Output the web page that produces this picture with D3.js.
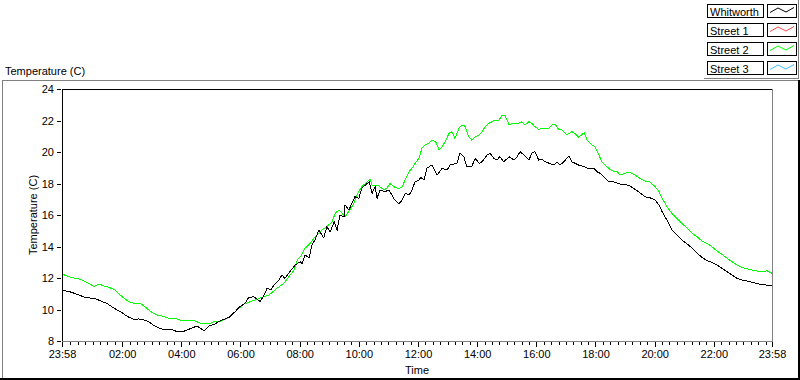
<!DOCTYPE html>
<html>
<head>
<meta charset="utf-8">
<script src="https://cdn.jsdelivr.net/npm/d3@7"></script>
<style>
  body { margin: 0; background: #fff; }
  svg { display: block; font-family: "Liberation Sans", Arial, sans-serif; font-size: 11px; }
  .tick text { font-size: 11px; fill: #000; }
</style>
</head>
<body>
<svg id="chart" width="800" height="380"></svg>
<script>
// [minutes since 23:58, temperature C]
const whitworth = [
  [0,11.24],[20,11.09],[34,10.92],[47,10.77],[61,10.71],[71,10.65],[81,10.50],[91,10.39],[101,10.18],[112,9.97],
  [122,9.80],[128,9.65],[136,9.50],[146,9.38],[156,9.40],[166,9.33],[176,9.23],[185,9.02],[193,8.87],[203,8.76],
  [217,8.76],[223,8.74],[233,8.59],[243,8.57],[254,8.70],[264,8.83],[274,8.95],[288,8.65],[298,8.95],[310,9.08],
  [324,9.33],[339,9.50],[351,9.86],[361,10.18],[371,10.39],[379,10.77],[389,10.81],[402,10.50],[410,10.92],[416,11.35],
  [424,11.24],[430,11.56],[440,11.87],[446,12.19],[452,11.98],[462,12.40],[473,12.83],[483,13.03],[487,12.93],[493,13.46],
  [501,13.27],[507,14.10],[513,14.41],[521,15.05],[531,14.54],[537,15.26],[544,14.94],[552,15.57],[558,15.05],[564,16.00],
  [572,15.89],[574,16.63],[582,16.32],[588,16.74],[594,17.16],[602,17.06],[608,17.70],[623,18.11],[629,17.38],[635,17.80],
  [639,17.06],[645,17.59],[655,17.48],[663,17.59],[669,17.27],[675,16.95],[683,16.70],[690,16.95],[696,17.38],[704,17.27],
  [710,17.59],[716,18.11],[724,18.22],[728,18.39],[734,18.22],[740,18.97],[750,19.17],[761,18.54],[771,18.97],[781,18.86],
  [787,19.17],[801,19.28],[807,19.92],[815,19.70],[821,19.07],[831,19.07],[838,19.60],[846,19.28],[852,19.38],[862,19.81],
  [868,19.92],[876,19.60],[882,19.49],[888,19.70],[896,19.38],[907,19.70],[917,19.49],[923,19.70],[929,20.02],[937,19.81],
  [947,19.49],[953,19.92],[959,20.02],[967,19.49],[973,19.54],[980,19.38],[998,19.17],[1004,19.38],[1010,19.17],[1018,19.38],
  [1028,19.75],[1034,19.38],[1048,19.17],[1059,19.07],[1069,18.92],[1079,18.97],[1085,18.75],[1091,18.65],[1099,18.43],[1109,18.11],
  [1119,18.11],[1130,17.97],[1142,17.95],[1152,17.84],[1162,17.63],[1172,17.42],[1182,17.16],[1192,17.10],[1203,16.95],[1211,16.63],
  [1217,16.21],[1227,15.68],[1237,15.05],[1247,14.73],[1257,14.41],[1268,14.16],[1278,13.89],[1288,13.57],[1298,13.31],[1308,13.10],
  [1318,13.00],[1328,12.83],[1338,12.62],[1349,12.40],[1359,12.19],[1369,11.98],[1379,11.87],[1389,11.81],[1399,11.73],[1414,11.62],
  [1426,11.56],[1440,11.49]
];
const street2 = [
  [0,12.25],[14,12.08],[26,11.98],[37,11.92],[47,11.77],[55,11.66],[65,11.45],[75,11.62],[85,11.49],[95,11.41],
  [107,11.24],[116,10.98],[126,10.71],[136,10.50],[146,10.39],[158,10.39],[168,10.18],[176,9.97],[183,9.80],[193,9.65],
  [203,9.59],[217,9.44],[229,9.44],[239,9.33],[258,9.33],[270,9.27],[284,9.08],[298,9.08],[310,9.27],[320,9.23],
  [335,9.44],[341,9.59],[349,9.80],[359,10.08],[369,10.35],[379,10.46],[391,10.60],[406,10.77],[420,10.92],[436,11.35],
  [450,11.66],[460,12.08],[471,12.51],[477,13.14],[485,13.40],[493,13.89],[503,14.20],[511,14.52],[527,15.05],[537,15.26],
  [548,15.57],[554,16.11],[562,16.32],[574,15.89],[584,16.32],[592,16.74],[598,17.27],[608,17.80],[619,18.11],[625,18.27],
  [629,17.90],[643,17.84],[653,17.59],[659,17.70],[665,18.01],[673,17.80],[683,17.65],[690,17.80],[696,18.22],[704,18.75],
  [710,18.97],[716,19.28],[724,19.60],[730,20.23],[736,20.44],[744,20.55],[750,20.76],[758,20.65],[765,20.13],[771,20.34],
  [777,20.65],[785,21.19],[791,21.29],[797,20.87],[805,21.50],[811,21.71],[817,21.65],[825,20.97],[831,20.76],[838,20.97],
  [846,21.08],[852,21.29],[858,21.61],[866,21.82],[876,21.99],[886,22.03],[892,22.29],[898,22.35],[907,21.71],[913,21.82],
  [923,21.78],[933,21.92],[939,21.71],[947,21.92],[953,21.82],[959,21.61],[967,21.44],[973,21.50],[987,21.50],[994,21.71],
  [1000,21.78],[1008,21.40],[1014,21.40],[1024,21.08],[1034,21.29],[1040,21.19],[1048,20.93],[1059,21.23],[1065,20.76],[1075,20.44],
  [1081,20.34],[1089,19.81],[1095,19.38],[1105,19.07],[1115,18.81],[1126,18.75],[1132,18.54],[1142,18.65],[1152,18.71],[1162,18.54],
  [1172,18.33],[1182,18.16],[1192,18.11],[1203,17.80],[1211,17.48],[1217,17.06],[1227,16.53],[1237,16.11],[1247,15.79],[1257,15.47],
  [1268,15.16],[1278,14.84],[1288,14.62],[1298,14.35],[1308,14.20],[1318,13.99],[1328,13.73],[1338,13.52],[1349,13.25],[1359,13.03],
  [1369,12.83],[1379,12.68],[1393,12.55],[1405,12.46],[1420,12.40],[1430,12.46],[1440,12.30]
];
const legendNames = ["Whitworth", "Street 1", "Street 2", "Street 3"];
const yTickValues = [8, 10, 12, 14, 16, 18, 20, 22, 24];

const colors = ["#000000", "#ff4848", "#00ff00", "#3cc0ff"];

const svg = d3.select("#chart");
const plot = { left: 62, right: 772, top: 89, bottom: 341 };

// --- scales ---
const start = new Date(2000, 0, 1, 23, 58);
const end = d3.timeMinute.offset(start, 1440);
const toDate = m => d3.timeMinute.offset(start, m);

const x = d3.scaleTime().domain([start, end]).range([plot.left, plot.right]);
const y = d3.scaleLinear().domain([8, 24]).range([plot.bottom, plot.top]);

// outer panel frame
svg.append("line").attr("x1", 2).attr("x2", 798).attr("y1", 80.5).attr("y2", 80.5).attr("stroke", "#808080");
svg.append("line").attr("x1", 2.5).attr("x2", 2.5).attr("y1", 80).attr("y2", 378).attr("stroke", "#808080");
svg.append("line").attr("x1", 0).attr("x2", 800).attr("y1", 379).attr("y2", 379).attr("stroke", "#000").attr("stroke-width", 2);
svg.append("line").attr("x1", 799).attr("x2", 799).attr("y1", 80).attr("y2", 380).attr("stroke", "#000").attr("stroke-width", 2);

svg.append("text").attr("x", 5).attr("y", 75).text("Temperature (C)");

// axes
const majorTicks = [start].concat(d3.timeHour.every(2).range(d3.timeMinute.offset(start, 10), end), [end]);
const minorTicks = d3.timeMinute.every(15).range(d3.timeMinute.offset(start, 5), end)
  .filter(d => !(d.getMinutes() === 0 && d.getHours() % 2 === 0));

svg.append("g")
  .attr("transform", `translate(0,${plot.bottom + 1})`)
  .call(d3.axisBottom(x).tickValues(minorTicks).tickSize(3).tickFormat(""))
  .call(g => g.select(".domain").remove());

svg.append("g")
  .attr("transform", `translate(0,${plot.bottom + 1})`)
  .call(d3.axisBottom(x).tickValues(majorTicks).tickSize(5).tickPadding(3).tickFormat(d3.timeFormat("%H:%M")))
  .call(g => g.select(".domain").remove());

svg.append("g")
  .attr("transform", `translate(${plot.left - 1},0)`)
  .call(d3.axisLeft(y).tickValues(yTickValues).tickSize(4).tickPadding(3))
  .call(g => g.select(".domain").remove());

svg.selectAll(".tick line").attr("shape-rendering", "crispEdges");

svg.append("text")
  .attr("transform", `translate(37,${(plot.top + plot.bottom) / 2}) rotate(-90)`)
  .attr("text-anchor", "middle")
  .text("Temperature (C)");

svg.append("text")
  .attr("x", (plot.left + plot.right) / 2)
  .attr("y", 374)
  .attr("text-anchor", "middle")
  .text("Time");

// lines, drawn aliased like the original plot
const line = d3.line()
  .x(d => x(toDate(d[0])))
  .y(d => y(d[1]));

svg.append("path").datum(street2)
  .attr("d", line).attr("fill", "none").attr("stroke", colors[2])
  .attr("stroke-width", 1).attr("shape-rendering", "crispEdges");
svg.append("path").datum(whitworth)
  .attr("d", line).attr("fill", "none").attr("stroke", colors[0])
  .attr("stroke-width", 1).attr("shape-rendering", "crispEdges");

// plot border: black top/left, grey bottom/right
svg.append("line").attr("x1", plot.left + 0.5).attr("x2", plot.left + 0.5).attr("y1", plot.top).attr("y2", plot.bottom + 1).attr("stroke", "#000");
svg.append("line").attr("x1", plot.left).attr("x2", plot.right).attr("y1", plot.top + 0.5).attr("y2", plot.top + 0.5).attr("stroke", "#000");
svg.append("line").attr("x1", plot.right + 0.5).attr("x2", plot.right + 0.5).attr("y1", plot.top).attr("y2", plot.bottom + 1).attr("stroke", "#808080");
svg.append("line").attr("x1", plot.left).attr("x2", plot.right + 1).attr("y1", plot.bottom + 0.5).attr("y2", plot.bottom + 0.5).attr("stroke", "#808080");

// legend
const legend = svg.append("g");
legend.append("line").attr("x1", 704).attr("x2", 799).attr("y1", 78.5).attr("y2", 78.5).attr("stroke", "#808080");
legend.append("line").attr("x1", 798.5).attr("x2", 798.5).attr("y1", 0).attr("y2", 79).attr("stroke", "#808080");

const swatch = d3.line()([[3, 8.5], [11, 4], [19, 8], [27, 3.5]]);
const rows = legend.selectAll("g.row").data(legendNames).enter()
  .append("g")
  .attr("transform", (d, i) => `translate(0,${4 + i * 19})`);
rows.append("rect")
  .attr("x", 707.5).attr("y", 0.5).attr("width", 56).attr("height", 13)
  .attr("fill", "#fff").attr("stroke", "#000");
rows.append("text").attr("x", 710).attr("y", 11.5).text(d => d);
rows.append("rect")
  .attr("x", 767.5).attr("y", 0.5).attr("width", 29).attr("height", 13)
  .attr("fill", "#fff").attr("stroke", "#000");
rows.append("path")
  .attr("transform", "translate(767,0)")
  .attr("d", swatch)
  .attr("fill", "none")
  .attr("stroke", (d, i) => colors[i]);
</script>
</body>
</html>
